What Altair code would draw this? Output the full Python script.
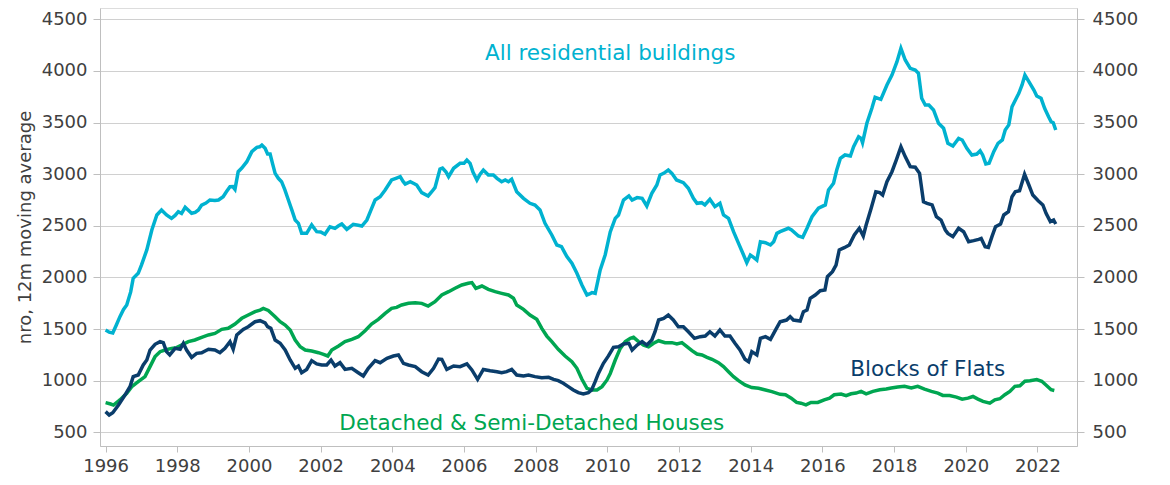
import altair as alt
import pandas as pd

# ---- data (decimal year, value) ----
all_t = [1996.0, 1996.1, 1996.2, 1996.3, 1996.4, 1996.5, 1996.59, 1996.7, 1996.77, 1996.91, 1997.0, 1997.15,
         1997.29, 1997.43, 1997.56, 1997.7, 1997.84, 1997.94, 1998.03, 1998.12, 1998.22, 1998.31, 1998.4, 1998.5,
         1998.59, 1998.68, 1998.8, 1998.91, 1999.05, 1999.15, 1999.28, 1999.37, 1999.47, 1999.55, 1999.61, 1999.7,
         1999.8, 1999.94, 2000.08, 2000.22, 2000.3, 2000.36, 2000.45, 2000.52, 2000.59, 2000.66, 2000.73, 2000.82,
         2000.91, 2001.0, 2001.1, 2001.2, 2001.29, 2001.38, 2001.47, 2001.61, 2001.7, 2001.75, 2001.89, 2002.0,
         2002.12, 2002.26, 2002.4, 2002.5, 2002.59, 2002.73, 2002.82, 2002.91, 2003.05, 2003.15, 2003.29, 2003.4,
         2003.52, 2003.66, 2003.8, 2003.98, 2004.1, 2004.22, 2004.3, 2004.36, 2004.5, 2004.6, 2004.68, 2004.82,
         2005.0, 2005.1, 2005.19, 2005.33, 2005.4, 2005.5, 2005.57, 2005.71, 2005.89, 2006.0, 2006.08, 2006.17,
         2006.25, 2006.36, 2006.45, 2006.54, 2006.68, 2006.82, 2006.92, 2007.05, 2007.15, 2007.24, 2007.33, 2007.47,
         2007.66, 2007.84, 2007.98, 2008.12, 2008.26, 2008.45, 2008.59, 2008.72, 2008.87, 2009.01, 2009.15, 2009.29,
         2009.43, 2009.5, 2009.57, 2009.66, 2009.8, 2009.94, 2010.08, 2010.22, 2010.31, 2010.45, 2010.6, 2010.69,
         2010.83, 2010.97, 2011.1, 2011.24, 2011.38, 2011.47, 2011.57, 2011.7, 2011.8, 2011.93, 2012.12, 2012.26,
         2012.4, 2012.5, 2012.63, 2012.72, 2012.86, 2013.0, 2013.14, 2013.24, 2013.38, 2013.52, 2013.66, 2013.8,
         2013.89, 2013.99, 2014.08, 2014.17, 2014.27, 2014.41, 2014.55, 2014.64, 2014.73, 2014.82, 2015.05, 2015.14,
         2015.33, 2015.45, 2015.57, 2015.71, 2015.89, 2016.08, 2016.17, 2016.31, 2016.4, 2016.5, 2016.63, 2016.78,
         2016.87, 2017.01, 2017.08, 2017.12, 2017.24, 2017.38, 2017.47, 2017.63, 2017.8, 2017.94, 2018.08, 2018.19,
         2018.31, 2018.45, 2018.59, 2018.68, 2018.77, 2018.87, 2018.97, 2019.1, 2019.24, 2019.38, 2019.5, 2019.64,
         2019.8, 2019.9, 2020.03, 2020.17, 2020.31, 2020.4, 2020.47, 2020.56, 2020.65, 2020.78, 2020.9, 2021.02,
         2021.1, 2021.2, 2021.29, 2021.43, 2021.48, 2021.57, 2021.65, 2021.76, 2021.9, 2021.98, 2022.1, 2022.2,
         2022.31, 2022.38, 2022.44, 2022.51]
all_v = [1490, 1470, 1462, 1540, 1620, 1690, 1733, 1860, 1991, 2040, 2120, 2266,
         2459, 2605, 2653, 2605, 2572, 2600, 2637, 2620, 2679, 2650, 2621, 2630,
         2653, 2701, 2720, 2750, 2745, 2750, 2782, 2830, 2879, 2880, 2853, 3024,
         3060, 3121, 3218, 3260, 3265, 3282, 3250, 3195, 3195, 3100, 3008, 2960,
         2927, 2850, 2750, 2650, 2556, 2524, 2427, 2427, 2480, 2508, 2443, 2440,
         2418, 2491, 2475, 2500, 2517, 2466, 2490, 2514, 2505, 2498, 2556, 2650,
         2750, 2782, 2847, 2944, 2960, 2976, 2930, 2905, 2928, 2910, 2895, 2821,
         2789, 2830, 2870, 3050, 3060, 3020, 2976, 3057, 3105, 3105, 3137, 3105,
         3020, 2944, 3000, 3040, 2992, 2992, 2960, 2927, 2944, 2927, 2950, 2830,
         2766, 2718, 2701, 2653, 2524, 2411, 2314, 2298, 2201, 2137, 2040, 1927,
         1830, 1840, 1853, 1846, 2072, 2220, 2440, 2572, 2605, 2750, 2789, 2750,
         2773, 2766, 2692, 2815, 2895, 2992, 3008, 3040, 3008, 2944, 2918, 2863,
         2766, 2718, 2724, 2702, 2757, 2686, 2718, 2605, 2572, 2443, 2330, 2217,
         2143, 2217, 2195, 2169, 2346, 2336, 2314, 2346, 2427, 2443, 2476, 2460,
         2401, 2388, 2476, 2588, 2670, 2702, 2847, 2912, 3040, 3153, 3186, 3176,
         3266, 3363, 3347, 3305, 3493, 3638, 3745, 3725, 3864, 3960, 4089, 4219,
         4106, 4025, 4009, 3977, 3735, 3670, 3670, 3622, 3493, 3445, 3299, 3273,
         3347, 3331, 3250, 3186, 3195, 3227, 3186, 3099, 3105, 3218, 3299, 3331,
         3428, 3477, 3653, 3750, 3783, 3864, 3960, 3896, 3815, 3757, 3735, 3638,
         3557, 3509, 3499, 3428]

flats_t = [1996.0, 1996.1, 1996.2, 1996.36, 1996.54, 1996.68, 1996.77, 1996.91, 1997.05, 1997.15, 1997.24, 1997.38,
           1997.52, 1997.61, 1997.7, 1997.79, 1997.94, 1998.08, 1998.17, 1998.26, 1998.4, 1998.54, 1998.68, 1998.87,
           1999.05, 1999.19, 1999.33, 1999.47, 1999.56, 1999.66, 1999.84, 1999.98, 2000.17, 2000.31, 2000.45, 2000.52,
           2000.61, 2000.73, 2000.87, 2001.01, 2001.15, 2001.29, 2001.38, 2001.47, 2001.61, 2001.75, 2001.89, 2002.03,
           2002.17, 2002.29, 2002.4, 2002.54, 2002.68, 2002.87, 2003.05, 2003.19, 2003.33, 2003.52, 2003.66, 2003.85,
           2004.03, 2004.17, 2004.31, 2004.45, 2004.64, 2004.82, 2005.0, 2005.15, 2005.29, 2005.38, 2005.52, 2005.71,
           2005.89, 2006.08, 2006.22, 2006.38, 2006.54, 2006.73, 2006.92, 2007.05, 2007.19, 2007.33, 2007.47, 2007.66,
           2007.8, 2007.98, 2008.17, 2008.36, 2008.5, 2008.63, 2008.77, 2008.91, 2009.05, 2009.19, 2009.33, 2009.47,
           2009.56, 2009.66, 2009.75, 2009.89, 2010.03, 2010.17, 2010.31, 2010.45, 2010.6, 2010.69, 2010.83, 2010.97,
           2011.1, 2011.24, 2011.33, 2011.43, 2011.57, 2011.7, 2011.84, 2011.98, 2012.12, 2012.26, 2012.43, 2012.59,
           2012.73, 2012.86, 2013.0, 2013.14, 2013.28, 2013.42, 2013.56, 2013.7, 2013.84, 2013.94, 2014.03, 2014.17,
           2014.27, 2014.41, 2014.55, 2014.69, 2014.82, 2015.0, 2015.1, 2015.19, 2015.38, 2015.47, 2015.57, 2015.66,
           2015.8, 2015.94, 2016.07, 2016.14, 2016.28, 2016.38, 2016.47, 2016.61, 2016.75, 2016.89, 2017.03, 2017.14,
           2017.22, 2017.36, 2017.49, 2017.6, 2017.68, 2017.8, 2017.94, 2018.06, 2018.19, 2018.31, 2018.45, 2018.59,
           2018.71, 2018.82, 2018.92, 2019.06, 2019.18, 2019.31, 2019.43, 2019.5, 2019.64, 2019.8, 2019.94, 2020.08,
           2020.22, 2020.36, 2020.43, 2020.54, 2020.63, 2020.73, 2020.83, 2020.97, 2021.06, 2021.19, 2021.29, 2021.38,
           2021.5, 2021.64, 2021.76, 2021.87, 2022.02, 2022.15, 2022.24, 2022.36, 2022.45, 2022.51]
flats_v = [700, 668, 690, 764, 861, 942, 1039, 1055, 1152, 1200, 1297, 1352,
           1378, 1369, 1281, 1249, 1313, 1304, 1362, 1297, 1226, 1265, 1271, 1304,
           1297, 1271, 1313, 1378, 1304, 1443, 1497, 1523, 1571, 1581, 1560, 1523,
           1507, 1394, 1362, 1297, 1200, 1120, 1142, 1077, 1109, 1194, 1162, 1152,
           1152, 1200, 1142, 1174, 1109, 1120, 1077, 1045, 1120, 1194, 1174, 1216,
           1239, 1249, 1168, 1152, 1136, 1087, 1055, 1120, 1210, 1207, 1109, 1142,
           1136, 1162, 1104, 1013, 1109, 1097, 1087, 1077, 1087, 1109, 1055, 1045,
           1055, 1039, 1029, 1032, 1013, 1000, 975, 942, 910, 884, 871, 884,
           910, 990, 1071, 1168, 1240, 1323, 1329, 1355, 1362, 1297, 1345, 1378,
           1345, 1394, 1474, 1588, 1604, 1636, 1588, 1523, 1523, 1474, 1410, 1426,
           1432, 1474, 1432, 1491, 1432, 1432, 1362, 1297, 1207, 1184, 1281, 1249,
           1410, 1426, 1400, 1490, 1571, 1587, 1620, 1587, 1578, 1668, 1684, 1798,
           1830, 1872, 1878, 2007, 2056, 2120, 2266, 2288, 2314, 2411, 2476, 2401,
           2508, 2670, 2830, 2821, 2798, 2927, 3024, 3137, 3266, 3170, 3073, 3067,
           3008, 2733, 2718, 2702, 2588, 2556, 2459, 2427, 2395, 2476, 2443, 2346,
           2356, 2369, 2378, 2298, 2291, 2395, 2491, 2517, 2605, 2637, 2782, 2830,
           2840, 2999, 2895, 2798, 2743, 2702, 2621, 2540, 2556, 2517]

det_t = [1996.0, 1996.14, 1996.22, 1996.4, 1996.59, 1996.73, 1996.91, 1997.1, 1997.24, 1997.38, 1997.52, 1997.66,
         1997.84, 1997.98, 1998.12, 1998.31, 1998.49, 1998.68, 1998.87, 1999.05, 1999.24, 1999.42, 1999.61, 1999.8,
         1999.98, 2000.17, 2000.31, 2000.4, 2000.54, 2000.73, 2000.87, 2001.01, 2001.15, 2001.29, 2001.43, 2001.57,
         2001.75, 2001.94, 2002.08, 2002.2, 2002.31, 2002.5, 2002.68, 2002.87, 2003.05, 2003.24, 2003.42, 2003.61,
         2003.8, 2003.98, 2004.12, 2004.26, 2004.45, 2004.64, 2004.82, 2005.0, 2005.19, 2005.38, 2005.57, 2005.75,
         2005.94, 2006.12, 2006.22, 2006.33, 2006.5, 2006.68, 2006.87, 2007.05, 2007.24, 2007.38, 2007.47, 2007.66,
         2007.84, 2008.03, 2008.17, 2008.31, 2008.45, 2008.63, 2008.82, 2009.01, 2009.15, 2009.29, 2009.43, 2009.57,
         2009.71, 2009.85, 2009.99, 2010.08, 2010.22, 2010.36, 2010.5, 2010.64, 2010.73, 2010.87, 2011.01, 2011.15,
         2011.29, 2011.43, 2011.61, 2011.8, 2011.94, 2012.08, 2012.22, 2012.36, 2012.5, 2012.64, 2012.78, 2012.92,
         2013.1, 2013.24, 2013.38, 2013.52, 2013.66, 2013.84, 2014.03, 2014.22, 2014.41, 2014.59, 2014.82, 2014.97,
         2015.13, 2015.28, 2015.4, 2015.54, 2015.68, 2015.87, 2016.05, 2016.2, 2016.33, 2016.52, 2016.66, 2016.8,
         2016.94, 2017.08, 2017.22, 2017.41, 2017.6, 2017.78, 2017.92, 2018.1, 2018.29, 2018.48, 2018.66, 2018.85,
         2019.04, 2019.22, 2019.36, 2019.55, 2019.74, 2019.9, 2020.06, 2020.2, 2020.34, 2020.48, 2020.67, 2020.81,
         2020.95, 2021.09, 2021.23, 2021.37, 2021.51, 2021.65, 2021.79, 2021.98, 2022.12, 2022.26, 2022.38, 2022.47]
det_v = [787, 774, 764, 813, 878, 942, 991, 1039, 1136, 1233, 1281, 1297,
         1313, 1320, 1345, 1378, 1394, 1420, 1443, 1458, 1497, 1507, 1549, 1604,
         1636, 1668, 1684, 1700, 1680, 1620, 1571, 1539, 1491, 1394, 1329, 1297,
         1287, 1271, 1255, 1239, 1297, 1336, 1378, 1400, 1426, 1484, 1549, 1594,
         1652, 1700, 1710, 1733, 1749, 1755, 1749, 1723, 1765, 1830, 1862, 1895,
         1927, 1943, 1950, 1895, 1917, 1885, 1862, 1846, 1830, 1798, 1733, 1691,
         1636, 1594, 1507, 1432, 1378, 1304, 1239, 1184, 1120, 1013, 926, 910,
         910, 942, 1007, 1070, 1200, 1313, 1378, 1410, 1420, 1378, 1345, 1329,
         1362, 1387, 1368, 1368, 1355, 1368, 1329, 1291, 1258, 1249, 1226, 1207,
         1174, 1136, 1087, 1039, 1000, 958, 933, 926, 910, 894, 868, 864,
         831, 789, 782, 766, 789, 789, 815, 831, 864, 870, 854, 873,
         880, 896, 873, 896, 912, 919, 929, 938, 945, 929, 945, 919,
         896, 880, 857, 857, 841, 821, 831, 847, 821, 799, 782, 815,
         825, 864, 896, 945, 951, 994, 1000, 1010, 994, 951, 912, 905]

x_ticks = list(range(1996, 2023, 2))
y_ticks = [500, 1000, 1500, 2000, 2500, 3000, 3500, 4000, 4500]

labels = ["All residential buildings", "Blocks of Flats", "Detached & Semi-Detached Houses"]
label_t = [2010.08, 2018.94, 2007.89]
label_v = [4160, 1103, 582]

C_ALL = "#00B2D0"
C_FLATS = "#0A3D6B"
C_DET = "#00A651"
TXT = "#404040"
GRID = "#D0D0D0"
AXIS = "#BFBFBF"
FONT = "DejaVu Sans"

W, H = 977, 438
X0, X1 = 1995.844, 2023.103
Y0, Y1 = 367.3, 4609.5

df_all = pd.DataFrame({"t": all_t, "v": all_v})
df_flats = pd.DataFrame({"t": flats_t, "v": flats_v})
df_det = pd.DataFrame({"t": det_t, "v": det_v})
df_lab = pd.DataFrame({"label": labels, "t": label_t, "v": label_v,
                       "c": [C_ALL, C_FLATS, C_DET]})

xscale = alt.Scale(domain=[X0, X1], nice=False, zero=False)
yscale = alt.Scale(domain=[Y0, Y1], nice=False, zero=False)

x_axis = alt.Axis(values=x_ticks, format="d", grid=False, tickSize=6, tickColor=AXIS,
                  domainColor=AXIS, labelPadding=5, labelFlush=False, labelFontSize=18,
                  labelColor=TXT, labelFont=FONT)
x_enc = alt.X("t:Q", scale=xscale, axis=x_axis, title=None)

left_axis = alt.Axis(orient="left", values=y_ticks, format="d", grid=True, gridColor=GRID,
                     tickSize=7, tickColor=AXIS, domainColor=AXIS, labelPadding=6,
                     labelFontSize=18, labelColor=TXT, labelFont=FONT,
                     title="nro, 12m moving average", titleFont=FONT, titleFontSize=18,
                     titleFontWeight="normal", titleColor=TXT, titleX=-75, titleY=219,
                     titleAngle=270, titleAlign="center", titleBaseline="middle")
right_axis = alt.Axis(orient="right", values=y_ticks, format="d", grid=False,
                      tickSize=7, tickColor=AXIS, domainColor=AXIS, labelPadding=8,
                      labelFontSize=18, labelColor=TXT, labelFont=FONT, title=None)

det = alt.Chart(df_det).mark_line(color=C_DET, strokeWidth=3.5).encode(
    x=x_enc, y=alt.Y("v:Q", scale=yscale, axis=left_axis))
flats = alt.Chart(df_flats).mark_line(color=C_FLATS, strokeWidth=3.5).encode(
    x=x_enc, y=alt.Y("v:Q", scale=yscale, axis=right_axis))
allres = alt.Chart(df_all).mark_line(color=C_ALL, strokeWidth=3.5).encode(
    x=x_enc, y=alt.Y("v:Q", scale=yscale, axis=None))
texts = alt.Chart(df_lab).mark_text(font=FONT, fontSize=21.5, align="center", baseline="middle").encode(
    x=x_enc, y=alt.Y("v:Q", scale=yscale, axis=None), text="label:N",
    color=alt.Color("c:N", scale=None))

chart = alt.layer(det, flats, allres, texts).resolve_scale(y="shared").resolve_axis(
    y="independent").properties(
    width=W, height=H, autosize=alt.AutoSizeParams(type="none"),
    padding={"left": 92, "top": 0, "right": 85, "bottom": 31}
).configure_view(stroke=None).configure(background="white")

chart.save("out.html", embed_options={"renderer": "svg", "actions": False})
